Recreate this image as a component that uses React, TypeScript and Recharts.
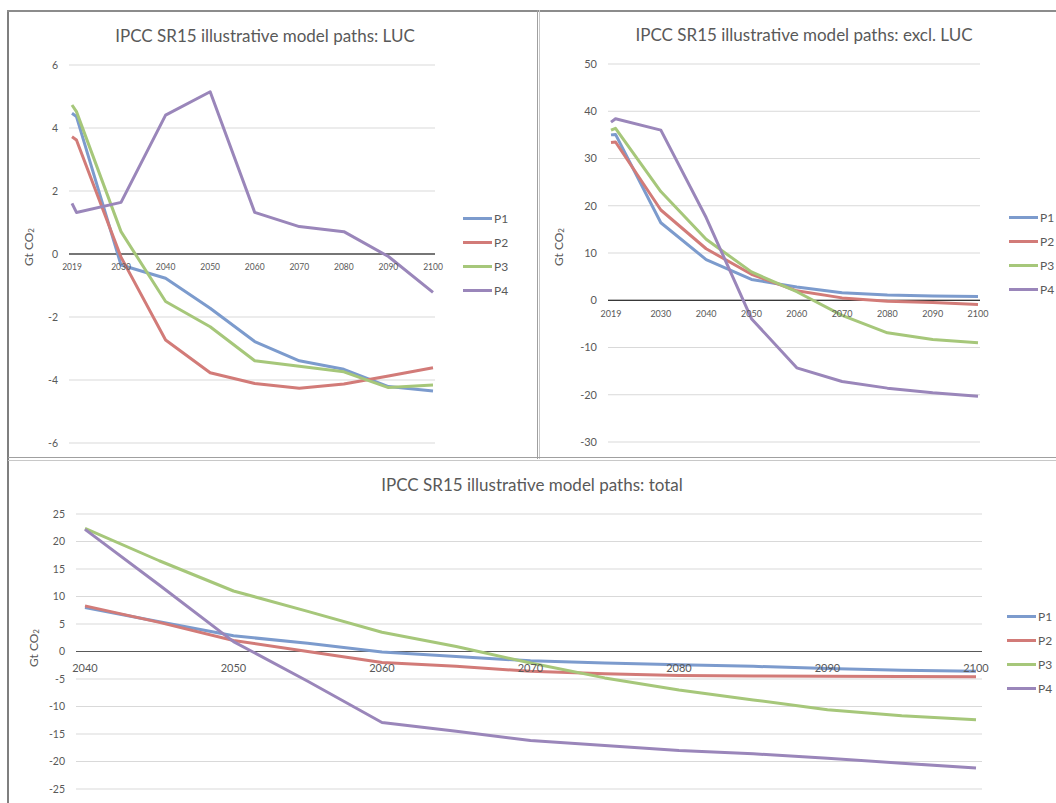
import React from "react";
import {
  LineChart,
  Line,
  XAxis,
  YAxis,
  CartesianGrid,
  ReferenceLine,
  Legend,
} from "recharts";

const FONT = "Lato, 'Open Sans', sans-serif";
const TEXT = "#595959";
const SERIES = ["P1", "P2", "P3", "P4"];
const COLORS = ["#7C9BCD", "#D27B78", "#A6C77A", "#9A86BA"];

// top two charts: 2019, 2020 then every decade
const years = [2019, 2020, 2030, 2040, 2050, 2060, 2070, 2080, 2090, 2100];
const yearTicks = [2019, 2030, 2040, 2050, 2060, 2070, 2080, 2090, 2100];

// LUC
const lucP1 = [4.47, 4.36, -0.35, -0.77, -1.72, -2.78, -3.39, -3.66, -4.21, -4.35];
const lucP2 = [3.72, 3.62, -0.1, -2.73, -3.77, -4.11, -4.26, -4.13, -3.87, -3.61];
const lucP3 = [4.73, 4.52, 0.71, -1.51, -2.31, -3.39, -3.56, -3.74, -4.24, -4.16];
const lucP4 = [1.61, 1.32, 1.64, 4.41, 5.15, 1.32, 0.87, 0.71, -0.08, -1.22];
const lucTicks = [-6, -4, -2, 0, 2, 4, 6];

// excl. LUC
const exclP1 = [35.0, 35.1, 16.4, 8.6, 4.4, 2.8, 1.6, 1.1, 0.9, 0.8];
const exclP2 = [33.4, 33.5, 19.1, 10.9, 5.5, 2.0, 0.5, -0.2, -0.5, -0.9];
const exclP3 = [36.0, 36.4, 23.0, 12.9, 6.0, 1.8, -3.2, -6.9, -8.3, -9.0];
const exclP4 = [37.7, 38.4, 36.0, 17.5, -3.9, -14.3, -17.2, -18.6, -19.6, -20.3];
const exclTicks = [-30, -20, -10, 0, 10, 20, 30, 40, 50];

// total, 5-year steps
const totalYears = [2040, 2045, 2050, 2055, 2060, 2065, 2070, 2075, 2080, 2085, 2090, 2095, 2100];
const totalXTicks = [2040, 2050, 2060, 2070, 2080, 2090, 2100];
const totalP1 = [8.0, 5.4, 2.85, 1.5, -0.1, -0.9, -1.7, -2.1, -2.4, -2.7, -3.1, -3.4, -3.6];
const totalP2 = [8.3, 5.3, 2.0, 0.0, -2.0, -2.7, -3.6, -4.05, -4.35, -4.45, -4.5, -4.55, -4.6];
const totalP3 = [22.4, 16.5, 11.0, 7.3, 3.5, 0.9, -2.1, -4.8, -7.0, -8.8, -10.6, -11.7, -12.4];
const totalP4 = [22.2, 12.1, 1.8, -5.4, -12.9, -14.5, -16.2, -17.1, -18.0, -18.6, -19.4, -20.3, -21.2];
const totalYTicks = [-25, -20, -15, -10, -5, 0, 5, 10, 15, 20, 25];

function buildRows(xs: number[], cols: number[][]) {
  return xs.map((year, i) => {
    const row: Record<string, number> = { year };
    SERIES.forEach((s, j) => {
      row[s] = cols[j][i];
    });
    return row;
  });
}

const renderLegend = (props: any) => {
  const items = props.payload ?? [];
  return (
    <div style={{ fontFamily: FONT, fontSize: 12, color: TEXT }}>
      {items.map((it: any) => (
        <div key={it.value} style={{ display: "flex", alignItems: "center", height: 24 }}>
          <span
            style={{
              display: "inline-block",
              width: 29,
              height: 3,
              background: it.color,
              marginRight: 2,
            }}
          />
          <span>{it.value}</span>
        </div>
      ))}
    </div>
  );
};

interface PanelProps {
  left: number;
  top: number;
  width: number;
  height: number;
  title: string;
  titleX: number;
  titleY: number;
  rows: Record<string, number>[];
  xDomain: [number, number];
  xTicks: number[];
  xPad: { left: number; right: number };
  yDomain: [number, number];
  yTicks: number[];
  margin: { top: number; right: number; bottom: number; left: number };
  yAxisWidth: number;
  xFont: number;
  xBaseline: number;
  yFont: number;
  labelX: number;
  labelY: number;
  legendX: number;
  legendY: number;
  zeroColor: string;
}

const X_AXIS_H = 4;

function Panel(p: PanelProps) {
  const plotH = p.height - p.margin.top - p.margin.bottom - X_AXIS_H;
  const [yMin, yMax] = p.yDomain;
  // Excel draws the category labels next to the 0 line, not at the bottom
  const zeroShift = (plotH * (0 - yMin)) / (yMax - yMin);

  const renderXTick = (props: any) => {
    const { x, y, payload } = props;
    return (
      <text
        key={`t-${payload.value}`}
        x={x}
        y={y - zeroShift + p.xBaseline}
        textAnchor="middle"
        fill={TEXT}
        fontSize={p.xFont}
        fontFamily={FONT}
      >
        {payload.value}
      </text>
    );
  };

  const YTitle = () => (
    <text
      transform={`rotate(-90, ${p.labelX}, ${p.labelY})`}
      x={p.labelX}
      y={p.labelY}
      textAnchor="middle"
      dominantBaseline="central"
      fill={TEXT}
      fontSize={12}
      fontFamily={FONT}
    >
      <tspan>Gt CO</tspan>
      <tspan fontSize={8} dy={3}>
        2
      </tspan>
    </text>
  );

  return (
    <>
      <div
        style={{
          position: "absolute",
          left: p.titleX - 300,
          top: p.titleY - 10.5,
          width: 600,
          textAlign: "center",
          fontFamily: FONT,
          fontSize: 17,
          lineHeight: "20px",
          color: TEXT,
          whiteSpace: "nowrap",
        }}
      >
        {p.title}
      </div>
      <div style={{ position: "absolute", left: p.left, top: p.top }}>
        <LineChart width={p.width} height={p.height} data={p.rows} margin={p.margin}>
          <CartesianGrid vertical={false} stroke="#D9D9D9" />
          <XAxis
            dataKey="year"
            type="number"
            domain={p.xDomain}
            ticks={p.xTicks}
            interval={0}
            padding={p.xPad}
            height={X_AXIS_H}
            axisLine={false}
            tickLine={false}
            tickSize={0}
            tickMargin={0}
            tick={renderXTick}
          />
          <YAxis
            type="number"
            domain={p.yDomain}
            ticks={p.yTicks}
            interval={0}
            width={p.yAxisWidth}
            axisLine={false}
            tickLine={false}
            tickSize={0}
            tickMargin={11}
            tick={{ fill: TEXT, fontSize: p.yFont, fontFamily: FONT }}
            label={<YTitle />}
          />
          <ReferenceLine y={0} stroke={p.zeroColor} strokeWidth={1} />
          <Legend
            layout="vertical"
            align="center"
            verticalAlign="middle"
            content={renderLegend}
            wrapperStyle={{ left: p.legendX, top: p.legendY, width: 50, height: 96 }}
          />
          {SERIES.map((s, i) => (
            <Line
              key={s}
              type="linear"
              dataKey={s}
              stroke={COLORS[i]}
              strokeWidth={3}
              strokeLinejoin="round"
              dot={false}
              activeDot={false}
              isAnimationActive={false}
            />
          ))}
        </LineChart>
      </div>
    </>
  );
}

export default function App() {
  const lucRows = buildRows(years, [lucP1, lucP2, lucP3, lucP4]);
  const exclRows = buildRows(years, [exclP1, exclP2, exclP3, exclP4]);
  const totalRows = buildRows(totalYears, [totalP1, totalP2, totalP3, totalP4]);

  return (
    <div
      style={{
        position: "absolute",
        left: 0,
        top: 0,
        width: 1056,
        height: 803,
        overflow: "hidden",
        background: "#fff",
      }}
    >
      <Panel
        left={8}
        top={10}
        width={530}
        height={449}
        title="IPCC SR15 illustrative model paths: LUC"
        titleX={265}
        titleY={36}
        rows={lucRows}
        xDomain={[2019, 2100]}
        xTicks={yearTicks}
        xPad={{ left: 3, right: 2 }}
        yDomain={[-6, 6]}
        yTicks={lucTicks}
        margin={{ top: 55, right: 103, bottom: 12, left: 31 }}
        yAxisWidth={30}
        xFont={8.5}
        xBaseline={16}
        yFont={10.5}
        labelX={20}
        labelY={237}
        legendX={455}
        legendY={196}
        zeroColor="#000"
      />
      <Panel
        left={539}
        top={10}
        width={517}
        height={449}
        title="IPCC SR15 illustrative model paths: excl. LUC"
        titleX={804}
        titleY={35}
        rows={exclRows}
        xDomain={[2019, 2100]}
        xTicks={yearTicks}
        xPad={{ left: 3, right: 2 }}
        yDomain={[-30, 50]}
        yTicks={exclTicks}
        margin={{ top: 54, right: 76, bottom: 13, left: 29 }}
        yAxisWidth={40}
        xFont={9}
        xBaseline={16.5}
        yFont={11}
        labelX={19}
        labelY={237}
        legendX={470}
        legendY={195}
        zeroColor="#000"
      />
      <Panel
        left={8}
        top={459}
        width={1048}
        height={344}
        title="IPCC SR15 illustrative model paths: total"
        titleX={532}
        titleY={485}
        rows={totalRows}
        xDomain={[2040, 2100]}
        xTicks={totalXTicks}
        xPad={{ left: 9, right: 6 }}
        yDomain={[-25, 25]}
        yTicks={totalYTicks}
        margin={{ top: 55, right: 74, bottom: 10, left: 28 }}
        yAxisWidth={40}
        xFont={11}
        xBaseline={20.5}
        yFont={10.5}
        labelX={25}
        labelY={189}
        legendX={999}
        legendY={145}
        zeroColor="#595959"
      />
      {/* panel frames */}
      <div style={{ position: "absolute", left: 7, top: 10, width: 2, height: 793, background: "#7F7F7F" }} />
      <div style={{ position: "absolute", left: 7, top: 10, width: 1049, height: 2, background: "#8C8C8C" }} />
      <div style={{ position: "absolute", left: 537, top: 10, width: 1, height: 449, background: "#A0A0A0" }} />
      <div style={{ position: "absolute", left: 539, top: 10, width: 1, height: 449, background: "#C8C8C8" }} />
      <div style={{ position: "absolute", left: 8, top: 457, width: 1048, height: 1, background: "#A0A0A0" }} />
      <div style={{ position: "absolute", left: 8, top: 460, width: 1048, height: 1, background: "#C8C8C8" }} />
    </div>
  );
}
